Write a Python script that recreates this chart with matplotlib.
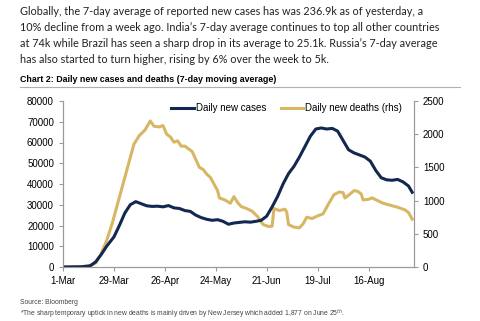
import matplotlib.pyplot as plt
import matplotlib.dates as mdates
import numpy as np
import datetime as dt

# days since 1-Mar-2020 and 7-day average values
case_days = [0, 10, 15, 18, 21, 24, 28, 31, 34, 37, 40, 43, 46, 49, 52, 55, 58,
             61, 64, 67, 70, 73, 76, 79, 82, 85, 88, 91, 94, 97, 100, 103, 106,
             109, 112, 115, 118, 121, 124, 127, 130, 133, 136, 139, 142, 145,
             148, 151, 154, 157, 160, 163, 166, 169, 172, 175, 178, 181, 184,
             187, 190, 192]
cases = [0, 100, 600, 2500, 6000, 10000, 14500, 20000, 26000, 30000, 31500,
         30500, 29500, 29200, 29300, 29000, 29600, 28500, 28200, 27200, 26800,
         25000, 23800, 23000, 22500, 22800, 22000, 20600, 21200, 21500, 21800,
         21600, 22000, 22500, 24500, 29000, 34000, 40000, 45000, 48500, 53000,
         58000, 63000, 66500, 67000, 66500, 66800, 65500, 61000, 56500, 55000,
         54000, 53000, 51000, 46500, 43000, 42000, 41800, 42200, 41000, 39000,
         36000]

death_days = [0, 14, 18, 21, 24, 27, 30, 33, 36, 39, 42, 45, 48, 50, 53, 55, 57,
              59, 61, 63, 65, 67, 69, 71, 73, 75, 77, 79, 81, 83, 85, 86, 89,
              92, 94, 96, 98, 101, 104, 107, 110, 113, 115, 116, 119, 122, 123,
              124, 127, 130, 132, 134, 137, 140, 143, 146, 149, 152, 154, 155,
              157, 160, 162, 164, 165, 168, 170, 173, 176, 180, 184, 188, 190,
              192]
deaths = [0, 10, 60, 200, 400, 650, 950, 1250, 1550, 1850, 1980, 2060, 2200,
          2120, 2110, 2130, 2000, 1960, 1880, 1900, 1820, 1820, 1780, 1740,
          1620, 1500, 1470, 1400, 1350, 1250, 1150, 1040, 1010, 960, 1060, 970,
          910, 880, 840, 760, 640, 610, 615, 880, 850, 870, 830, 640, 600, 590,
          650, 750, 730, 770, 800, 950, 1090, 1130, 1120, 1040, 1080, 1150,
          1140, 1100, 1010, 1020, 1040, 1000, 960, 930, 900, 860, 820, 720]

start = dt.date(2020, 3, 1)
case_dates = [start + dt.timedelta(days=d) for d in case_days]
death_dates = [start + dt.timedelta(days=d) for d in death_days]
tick_dates = [start + dt.timedelta(days=28 * i) for i in range(7)]

navy = '#13284f'
gold = '#d8b764'
grey = '#9a9a9a'
sans = ['Liberation Sans', 'DejaVu Sans']

fig = plt.figure(figsize=(4.8, 3.21), dpi=100)

body = ("Globally, the 7-day average of reported new cases has was 236.9k as of yesterday, a\n"
        "10% decline from a week ago. India\u2019s 7-day average continues to top all other countries\n"
        "at 74k while Brazil has seen a sharp drop in its average to 25.1k. Russia\u2019s 7-day average\n"
        "has also started to turn higher, rising by 6% over the week to 5k.")
fig.text(20 / 480, 1 - 6 / 321, body, ha='left', va='top', fontsize=7.85,
         family='Lato', color='#222222', linespacing=1.55)
fig.text(20 / 480, 1 - 80 / 321, 'Chart 2: Daily new cases and deaths (7-day moving average)',
         ha='left', va='center', fontsize=6.4, weight='bold', family=sans)
fig.add_artist(plt.Line2D([20 / 480, 460 / 480], [1 - 87 / 321] * 2,
                          color='#b0b0b0', lw=0.8))

ax = fig.add_axes([63 / 480, 1 - 267 / 321, (414 - 63) / 480, 166 / 321])
ax2 = ax.twinx()
l1, = ax.plot(case_dates, cases, color=navy, lw=2.2)
l2, = ax2.plot(death_dates, deaths, color=gold, lw=2.2)
ax.set_zorder(ax2.get_zorder() + 1)
ax.patch.set_visible(False)

ax.set_xlim(start, start + dt.timedelta(days=193))
ax.set_ylim(0, 80000)
ax2.set_ylim(0, 2500)
ax.set_yticks(np.arange(0, 80001, 10000))
ax2.set_yticks(np.arange(0, 2501, 500))
ax.set_xticks(tick_dates)
ax.xaxis.set_major_formatter(mdates.DateFormatter('%-d-%b'))

for a in (ax, ax2):
    for s in a.spines.values():
        s.set_color(grey)
    a.spines['top'].set_visible(False)
    a.tick_params(colors=grey, labelcolor='black', labelsize=7, length=3,
                  width=0.8)
    for lab in a.get_xticklabels() + a.get_yticklabels():
        lab.set_family(sans)

ax.legend([l1, l2], ['Daily new cases', 'Daily new deaths (rhs)'], ncol=2,
          frameon=False, loc='upper right', bbox_to_anchor=(0.99, 1.04),
          prop={'family': sans, 'size': 7}, handlelength=2.3,
          handletextpad=0.2, columnspacing=1.5)

fig.text(20 / 480, 1 - 303 / 321, 'Source: Bloomberg', fontsize=4.9,
         family=sans, color='#444444', va='center')
fig.text(20 / 480, 1 - 314 / 321,
         '*The sharp temporary uptick in new deaths is mainly driven by New Jersey which added 1,877 on June 25$^{th}$.',
         fontsize=4.9, family=sans, color='#444444', va='center')

fig.savefig('out.png', dpi=100)
